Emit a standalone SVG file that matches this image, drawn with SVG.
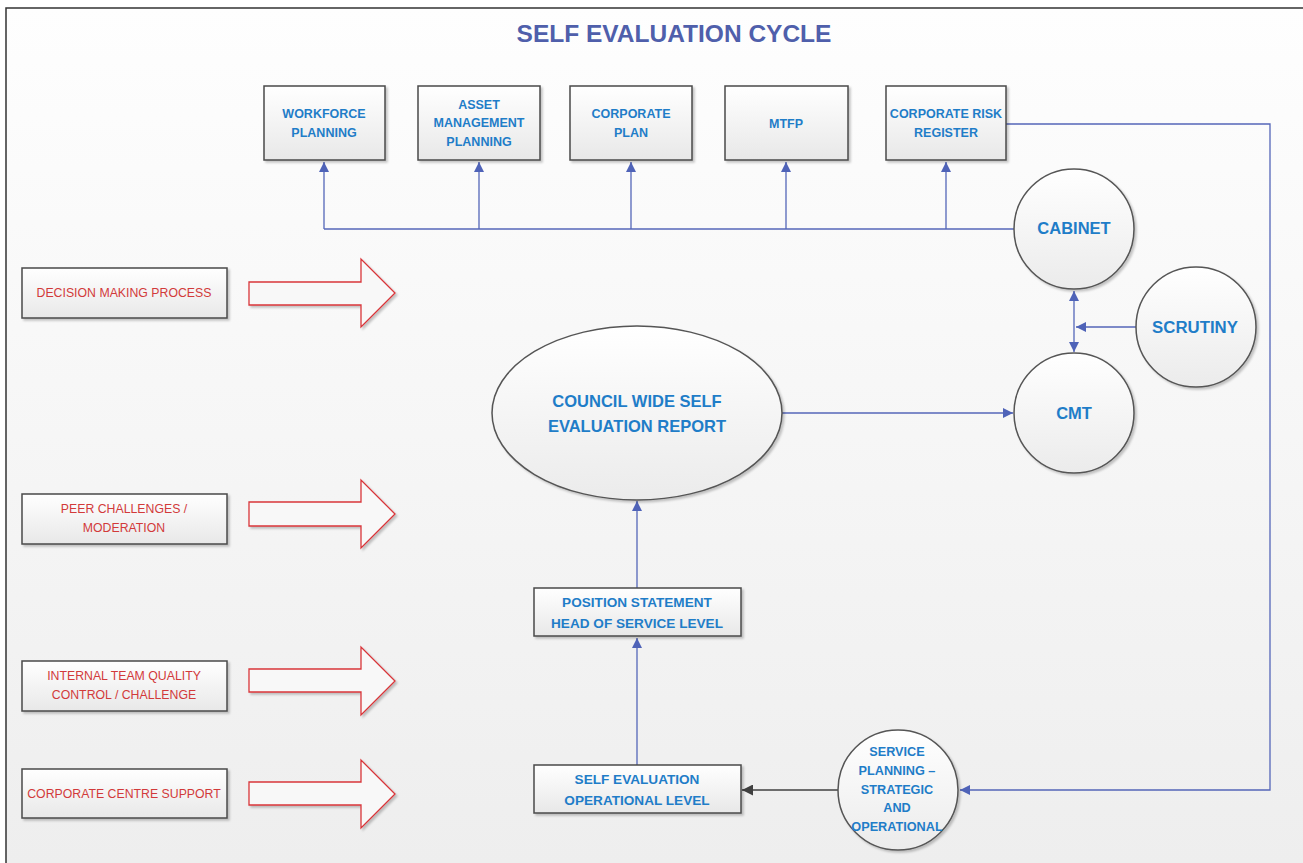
<svg xmlns="http://www.w3.org/2000/svg" width="1303" height="863" viewBox="0 0 1303 863">
<defs>
<linearGradient id="bg" x1="0" y1="0" x2="0" y2="1"><stop offset="0" stop-color="#fefefe"/><stop offset="1" stop-color="#eeeeee"/></linearGradient>
<linearGradient id="box" x1="0" y1="0" x2="0" y2="1"><stop offset="0" stop-color="#ffffff"/><stop offset="1" stop-color="#e8e8e8"/></linearGradient>
<linearGradient id="circ" x1="0" y1="0" x2="0" y2="1"><stop offset="0" stop-color="#ffffff"/><stop offset="1" stop-color="#ebebeb"/></linearGradient>
<marker id="ab" viewBox="0 0 10 10" refX="10" refY="5" markerWidth="10" markerHeight="10" markerUnits="userSpaceOnUse" orient="auto"><path d="M0,0 L10,5 L0,10 z" fill="#4f63b8"/></marker>
<marker id="ab2" viewBox="0 0 10 10" refX="10" refY="5" markerWidth="10" markerHeight="10" markerUnits="userSpaceOnUse" orient="auto-start-reverse"><path d="M0,0 L10,5 L0,10 z" fill="#4f63b8"/></marker>
<marker id="ak" viewBox="0 0 10 10" refX="10" refY="5" markerWidth="11" markerHeight="11" markerUnits="userSpaceOnUse" orient="auto"><path d="M0,0 L10,5 L0,10 z" fill="#404040"/></marker>
<filter id="sh" x="-10%" y="-10%" width="130%" height="130%"><feDropShadow dx="2" dy="2" stdDeviation="1.2" flood-color="#000" flood-opacity="0.22"/></filter>
</defs>
<style>
.bx{fill:url(#box);stroke:#4a4a4a;stroke-width:1.5;filter:url(#sh)}
.ci{fill:url(#circ);stroke:#555;stroke-width:1.5;filter:url(#sh)}
.bt{font-family:"Liberation Sans",Arial,sans-serif;font-weight:bold;fill:#1f7dc8;text-anchor:middle}
.rt{font-family:"Liberation Sans",Arial,sans-serif;fill:#d23a3a;text-anchor:middle;font-size:12.3px}
.ln{fill:none;stroke:#5466b8;stroke-width:1.3}
.ra{fill:#f8f8f8;stroke:#d9363a;stroke-width:1.3;filter:url(#sh)}
</style>
<rect x="0" y="0" width="1303" height="863" fill="#ffffff"/>
<rect x="6" y="8" width="1297" height="855" fill="url(#bg)"/>
<path d="M6,863 L6,8 L1303,8" fill="none" stroke="#333" stroke-width="1.5"/>
<text x="674" y="42" font-family="Liberation Sans,Arial,sans-serif" font-weight="bold" font-size="24.5" fill="#4f5fab" text-anchor="middle">SELF EVALUATION CYCLE</text>

<g id="connectors">
<path class="ln" d="M324,229 L1014,229"/>
<path class="ln" d="M324,229 L324,162" marker-end="url(#ab)"/>
<path class="ln" d="M479,229 L479,162" marker-end="url(#ab)"/>
<path class="ln" d="M631,229 L631,162" marker-end="url(#ab)"/>
<path class="ln" d="M786,229 L786,162" marker-end="url(#ab)"/>
<path class="ln" d="M946,229 L946,162" marker-end="url(#ab)"/>
<path class="ln" d="M1074,352 L1074,291" marker-start="url(#ab2)" marker-end="url(#ab)"/>
<path class="ln" d="M1136,327 L1076,327" marker-end="url(#ab)"/>
<path class="ln" d="M782,413 L1013,413" marker-end="url(#ab)"/>
<path class="ln" d="M637,588 L637,501" marker-end="url(#ab)"/>
<path class="ln" d="M637,765 L637,638" marker-end="url(#ab)"/>
<path d="M838,790 L742,790" fill="none" stroke="#404040" stroke-width="1.3" marker-end="url(#ak)"/>
<path class="ln" d="M1006,124 L1270,124 L1270,790 L960,790" marker-end="url(#ab)"/>
</g>

<g id="workforce"><rect class="bx" x="264" y="86" width="121" height="74"/><text class="bt" font-size="12.5" x="324" y="118">WORKFORCE</text><text class="bt" font-size="12.5" x="324" y="137">PLANNING</text></g>
<g id="asset"><rect class="bx" x="418" y="86" width="122" height="74"/><text class="bt" font-size="12.5" x="479" y="109">ASSET</text><text class="bt" font-size="12.5" x="479" y="127">MANAGEMENT</text><text class="bt" font-size="12.5" x="479" y="146">PLANNING</text></g>
<g id="corpplan"><rect class="bx" x="570" y="86" width="122" height="74"/><text class="bt" font-size="12.5" x="631" y="118">CORPORATE</text><text class="bt" font-size="12.5" x="631" y="137">PLAN</text></g>
<g id="mtfp"><rect class="bx" x="725" y="86" width="123" height="74"/><text class="bt" font-size="12.5" x="786" y="128">MTFP</text></g>
<g id="risk"><rect class="bx" x="886" y="86" width="120" height="74"/><text class="bt" font-size="12.5" x="946" y="118">CORPORATE RISK</text><text class="bt" font-size="12.5" x="946" y="137">REGISTER</text></g>

<g id="cabinet"><circle class="ci" cx="1074" cy="229" r="60"/><text class="bt" font-size="16.5" x="1074" y="234">CABINET</text></g>
<g id="scrutiny"><circle class="ci" cx="1196" cy="327" r="60"/><text class="bt" font-size="16.8" x="1195" y="333">SCRUTINY</text></g>
<g id="cmt"><circle class="ci" cx="1074" cy="413" r="60"/><text class="bt" font-size="16.5" x="1074" y="419">CMT</text></g>

<g id="report"><ellipse class="ci" cx="637" cy="413" rx="145" ry="87"/><text class="bt" font-size="16.5" x="637" y="407">COUNCIL WIDE SELF</text><text class="bt" font-size="16.5" x="637" y="432">EVALUATION REPORT</text></g>

<g id="position"><rect class="bx" x="534" y="588" width="207" height="48"/><text class="bt" font-size="13.6" x="637" y="607">POSITION STATEMENT</text><text class="bt" font-size="13.6" x="637" y="628">HEAD OF SERVICE LEVEL</text></g>
<g id="selfeval"><rect class="bx" x="534" y="765" width="207" height="48"/><text class="bt" font-size="13.6" x="637" y="784">SELF EVALUATION</text><text class="bt" font-size="13.6" x="637" y="805">OPERATIONAL LEVEL</text></g>
<g id="servplan"><circle class="ci" cx="898" cy="790" r="60"/>
<text class="bt" font-size="12.7" x="897" y="756">SERVICE</text>
<text class="bt" font-size="12.7" x="897" y="775">PLANNING –</text>
<text class="bt" font-size="12.7" x="897" y="794">STRATEGIC</text>
<text class="bt" font-size="12.7" x="897" y="812">AND</text>
<text class="bt" font-size="12.7" x="897" y="831">OPERATIONAL</text></g>

<g id="decision"><rect class="bx" x="22" y="268" width="205" height="50"/><text class="rt" x="124" y="297">DECISION MAKING PROCESS</text>
<path class="ra" d="M249,282 L361,282 L361,259 L395,293 L361,327 L361,305 L249,305 Z"/></g>
<g id="peer"><rect class="bx" x="22" y="494" width="205" height="50"/><text class="rt" x="124" y="513">PEER CHALLENGES /</text><text class="rt" x="124" y="532">MODERATION</text>
<path class="ra" d="M249,502 L361,502 L361,480 L395,514 L361,548 L361,526 L249,526 Z"/></g>
<g id="internal"><rect class="bx" x="22" y="661" width="205" height="50"/><text class="rt" x="124" y="680">INTERNAL TEAM QUALITY</text><text class="rt" x="124" y="699">CONTROL / CHALLENGE</text>
<path class="ra" d="M249,669 L361,669 L361,647 L395,681 L361,715 L361,692 L249,692 Z"/></g>
<g id="centre"><rect class="bx" x="22" y="769" width="205" height="49"/><text class="rt" x="124" y="798">CORPORATE CENTRE SUPPORT</text>
<path class="ra" d="M249,782 L361,782 L361,760 L395,794 L361,828 L361,805 L249,805 Z"/></g>
</svg>
